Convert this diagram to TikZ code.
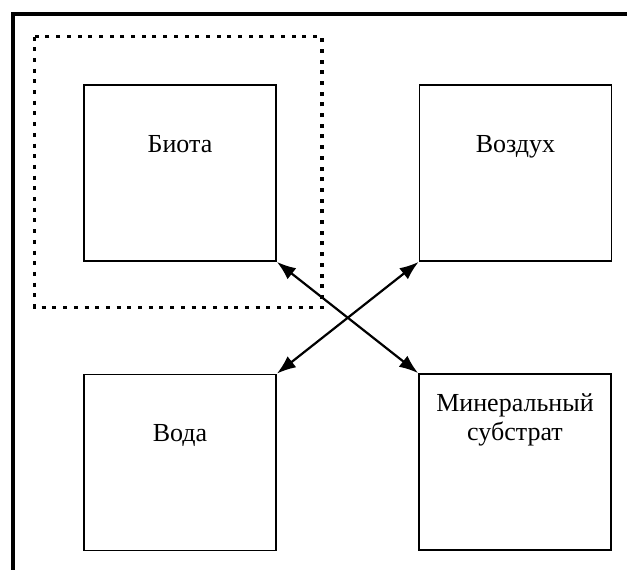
\documentclass[tikz,border=0pt]{standalone}
\usepackage{fontspec}
\setmainfont{Liberation Serif}
\usepackage{tikz}
\usetikzlibrary{positioning,arrows.meta}

\begin{document}
\begin{tikzpicture}[x=1pt,y=-1pt,>={Latex[length=19pt,width=14pt]},
                    box/.style={draw, line width=1.8pt, minimum width=192pt, minimum height=176pt},
                    lbl/.style={align=center, font=\fontsize{26}{29}\selectfont, inner sep=0pt},
                    link/.style={<->, line width=2.2pt}]
\useasboundingbox (0,0) rectangle (627,570);
% frame
\draw[line width=4pt] (627,14) -- (13,14) -- (13,570);
% boxes
\node[box] (biota) at (180,173) {};
\node[box] (air) at (515.5,173) {};
\node[box] (water) at (180,462.5) {};
\node[box] (mineral) at (515,462) {};
\node[lbl, below=51pt of biota.north] (biotatext) {Биота};
\node[lbl, below=51pt of air.north] (airtext) {Воздух};
\node[lbl, below=51pt of water.north] (watertext) {Вода};
\node[lbl, below=20pt of mineral.north] (mineraltext) {Минеральный\\субстрат};
% dotted frame round biota
\draw[line width=3.5pt, dash pattern=on 4pt off 6.7pt] (34.5,36.5) rectangle (322,307.5);
% links
\draw[link] (biota.south east) -- (mineral.north west);
\draw[link] (air.south west) -- (water.north east);
\end{tikzpicture}
\end{document}
